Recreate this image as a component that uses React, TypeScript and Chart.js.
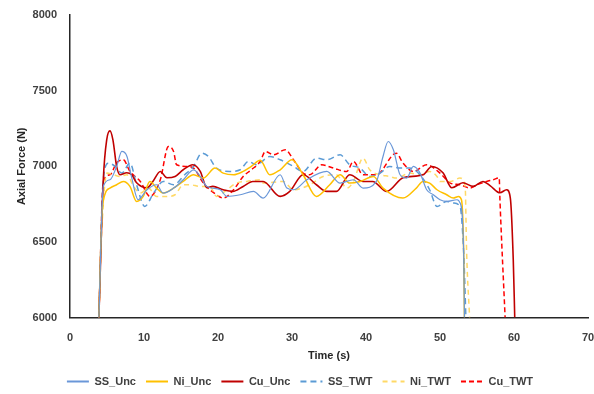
import React, { useEffect, useRef } from "react";
import { Chart, registerables } from "chart.js";

Chart.register(...registerables);

const xTicksMax = 70;
const yMin = 6000;
const yMax = 8000;

const ssUncT = [3.9, 4.5, 5.4, 6.3, 7.0, 7.7, 8.3, 9.2, 10.4, 11.7, 12.6, 14.0, 15.3, 16.7, 17.6, 18.5, 20.3, 21.2, 23.0, 24.8, 26.1, 28.4, 29.3, 30.2, 32.0, 34.7, 36.5, 38.3, 39.6, 41.4, 42.3, 43.0, 43.7, 44.6, 45.5, 46.4, 47.3, 48.2, 49.1, 50.0, 50.9, 52.3, 52.7, 53.2, 53.3];
const ssUncF = [6000, 6867, 6911, 6999, 7098, 7065, 6933, 6779, 6845, 6878, 6823, 6856, 6911, 6977, 6933, 6867, 6845, 6801, 6812, 6834, 6790, 6944, 6856, 6845, 6911, 6966, 6889, 6911, 6856, 6900, 7065, 7164, 7109, 6944, 6922, 6999, 6955, 6845, 6812, 6779, 6768, 6779, 6759, 6429, 6000];

const niUncT = [3.9, 4.3, 4.7, 5.4, 6.3, 7.2, 8.1, 9.0, 9.9, 10.8, 11.7, 12.6, 14.0, 15.3, 16.7, 18.0, 19.6, 20.7, 22.1, 23.4, 24.5, 25.7, 27.0, 28.4, 30.0, 31.5, 33.3, 35.1, 36.5, 37.8, 39.2, 41.0, 42.3, 45.0, 46.8, 47.7, 48.6, 49.6, 50.9, 51.8, 52.5, 52.9, 53.2, 53.3];
const niUncF = [6000, 6660, 6812, 6856, 6878, 6900, 6867, 6768, 6801, 6900, 6856, 6823, 6856, 6900, 6944, 6922, 6988, 6955, 6944, 6966, 6999, 7040, 6944, 6977, 7043, 6944, 6801, 6878, 6944, 6889, 6900, 6933, 6856, 6790, 6856, 6900, 6889, 6845, 6812, 6790, 6801, 6779, 6429, 6000];

const cuUncT = [3.9, 4.5, 4.96, 5.4, 5.8, 6.3, 6.76, 7.66, 8.34, 9.0, 10.4, 11.2, 12.2, 13.1, 14.2, 15.3, 16.6, 17.6, 18.5, 19.3, 20.7, 22.0, 23.4, 24.7, 26.1, 28.4, 29.7, 31.5, 33.3, 34.7, 36.0, 37.8, 39.6, 40.9, 42.8, 45.0, 47.7, 48.9, 50.4, 51.6, 53.1, 54.5, 55.8, 56.8, 58.1, 59.0, 59.5, 59.9, 60.1];
const cuUncF = [6000, 6911, 7175, 7234, 7175, 6999, 6944, 6957, 6944, 6891, 6858, 6900, 6966, 6924, 6933, 6977, 7010, 6966, 6858, 6867, 6845, 6834, 6867, 6900, 6900, 6801, 6834, 6944, 6878, 6834, 6834, 6944, 6900, 6900, 6834, 6924, 6944, 6999, 6957, 6858, 6891, 6867, 6900, 6871, 6825, 6845, 6792, 6383, 6000];

const ssTwtT = [3.9, 4.5, 5.2, 6.1, 7.0, 8.1, 9.0, 10.1, 11.3, 12.6, 14.0, 15.5, 16.7, 17.8, 18.7, 19.8, 21.6, 23.0, 24.1, 25.2, 27.0, 28.4, 30.2, 31.5, 33.3, 34.7, 36.5, 37.8, 39.2, 40.5, 41.9, 43.2, 44.6, 45.9, 47.3, 48.6, 49.6, 50.9, 51.8, 52.7, 53.2, 53.5];
const ssTwtF = [6000, 6911, 7021, 6999, 6955, 7021, 6878, 6735, 6823, 6900, 6878, 6944, 6999, 7087, 7065, 6988, 6966, 6977, 7032, 7010, 7065, 7043, 6999, 6966, 7054, 7043, 7076, 7010, 6988, 6933, 6955, 6999, 6988, 6988, 6944, 6845, 6735, 6768, 6757, 6735, 6429, 6000];

const niTwtT = [3.9, 4.3, 5.0, 5.9, 6.8, 7.7, 8.6, 9.5, 10.6, 11.7, 13.1, 14.2, 15.3, 16.2, 17.6, 18.9, 19.8, 21.2, 22.5, 23.9, 25.7, 26.1, 28.8, 30.2, 32.4, 34.2, 36.0, 37.4, 38.3, 39.6, 40.5, 41.9, 43.2, 44.1, 45.9, 47.3, 48.6, 49.6, 50.0, 51.4, 52.7, 53.4, 53.6, 54.0];
const niTwtF = [6000, 6581, 6955, 6944, 6933, 6944, 6867, 6823, 6856, 6801, 6801, 6812, 6878, 6878, 6867, 6867, 6801, 6845, 6889, 6900, 6911, 6889, 6900, 6845, 6878, 6933, 6944, 6856, 6900, 7054, 6977, 6944, 6933, 6922, 6955, 6944, 6966, 6933, 6900, 6900, 6922, 6867, 6429, 6000];

const cuTwtT = [3.9, 4.5, 5.4, 6.3, 7.2, 8.1, 9.5, 10.8, 12.2, 13.3, 14.0, 14.4, 15.8, 16.7, 18.0, 19.8, 20.7, 22.1, 23.4, 24.5, 25.7, 26.4, 27.5, 29.1, 30.2, 31.5, 32.4, 34.0, 35.6, 37.4, 38.3, 39.6, 41.4, 44.1, 45.0, 46.4, 48.2, 50.0, 51.4, 52.7, 54.1, 55.0, 56.3, 57.2, 58.0, 58.1, 58.8];
const cuTwtF = [6000, 6900, 6944, 7023, 7043, 6966, 6900, 6801, 6911, 7131, 7098, 7010, 6999, 6988, 6891, 6812, 6790, 6845, 6933, 6977, 7032, 7098, 7076, 7109, 7043, 6955, 6944, 7010, 6988, 6966, 7032, 6944, 6944, 7087, 7021, 6966, 7010, 6955, 6889, 6878, 6856, 6878, 6900, 6911, 6924, 6779, 6000];

const seriesNames = ["SS_Unc", "Ni_Unc", "Cu_Unc", "SS_TWT", "Ni_TWT", "Cu_TWT"];

const pts = (t: number[], f: number[]) => t.map((x, i) => ({ x, y: f[i] }));

export default function App() {
  const ref = useRef<HTMLCanvasElement | null>(null);
  useEffect(() => {
    if (!ref.current) return;
    const font = "'Liberation Sans', Arial, sans-serif";
    const mk = (label: string, data: any[], color: string, width: number, dash: number[]) => ({
      label,
      data,
      borderColor: color,
      backgroundColor: color,
      borderWidth: width,
      borderDash: dash,
      pointRadius: 0,
      pointStyle: "line",
      fill: false,
      cubicInterpolationMode: "monotone" as const,
    });
    const chart = new Chart(ref.current, {
      type: "line",
      data: {
        datasets: [
          mk(seriesNames[0], pts(ssUncT, ssUncF), "#6A97D8", 1.2, []),
          mk(seriesNames[1], pts(niUncT, niUncF), "#FFC000", 1.5, []),
          mk(seriesNames[2], pts(cuUncT, cuUncF), "#C00000", 1.6, []),
          mk(seriesNames[3], pts(ssTwtT, ssTwtF), "#5B9BD5", 1.5, [6, 4]),
          mk(seriesNames[4], pts(niTwtT, niTwtF), "#FFD966", 1.5, [5, 4]),
          mk(seriesNames[5], pts(cuTwtT, cuTwtF), "#FF0000", 1.5, [5, 3]),
        ],
      },
      options: {
        responsive: false,
        animation: false,
        layout: { padding: { left: 12, right: 6, top: 15, bottom: -3 } },
        plugins: {
          tooltip: { enabled: false },
          legend: {
            position: "bottom",
            labels: {
              usePointStyle: true,
              pointStyle: "line",
              pointStyleWidth: 22,
              boxWidth: 22,
              boxHeight: 4,
              padding: 10,
              color: "#404040",
              font: { family: font, size: 11, weight: "bold" },
              generateLabels: (c: any) => {
                const items = Chart.defaults.plugins.legend.labels.generateLabels(c);
                return items.map((it: any) => {
                  const ds: any = c.data.datasets[it.datasetIndex];
                  return { ...it, lineDash: ds.borderDash, strokeStyle: ds.borderColor, lineWidth: 2 };
                });
              },
            },
          },
        },
        scales: {
          x: {
            type: "linear",
            min: 0,
            max: xTicksMax,
            afterFit: (s: any) => { s.paddingRight = 0; s.paddingLeft = 0; s.height = s.height - 9; },
            ticks: { stepSize: 10, color: "#404040", font: { family: font, size: 11, weight: "bold" }, padding: 14 },
            grid: { display: false, drawTicks: false },
            border: { display: true, color: "#262626", width: 1.5 },
            title: { display: true, text: "Time (s)", color: "#262626", font: { family: font, size: 11, weight: "bold" }, padding: { top: 0, bottom: 3 } },
          },
          y: {
            min: yMin,
            max: yMax,
            afterFit: (s: any) => { s.width = 58; s.paddingTop = 0; s.paddingBottom = 0; },
            ticks: { stepSize: 500, color: "#404040", font: { family: font, size: 11, weight: "bold" }, padding: 13, callback: (v: any) => String(v) },
            grid: { display: false, drawTicks: false },
            border: { display: true, color: "#262626", width: 1.5 },
            title: { display: true, text: "Axial Force (N)", color: "#262626", font: { family: font, size: 11, weight: "bold" }, padding: { top: 3, bottom: 5 } },
          },
        },
      },
    });
    return () => chart.destroy();
  }, []);
  return (
    <div style={{ position: "fixed", left: 0, top: 0, width: 594, height: 394, background: "#fff" }}>
      <canvas ref={ref} width={594} height={394} />
    </div>
  );
}
